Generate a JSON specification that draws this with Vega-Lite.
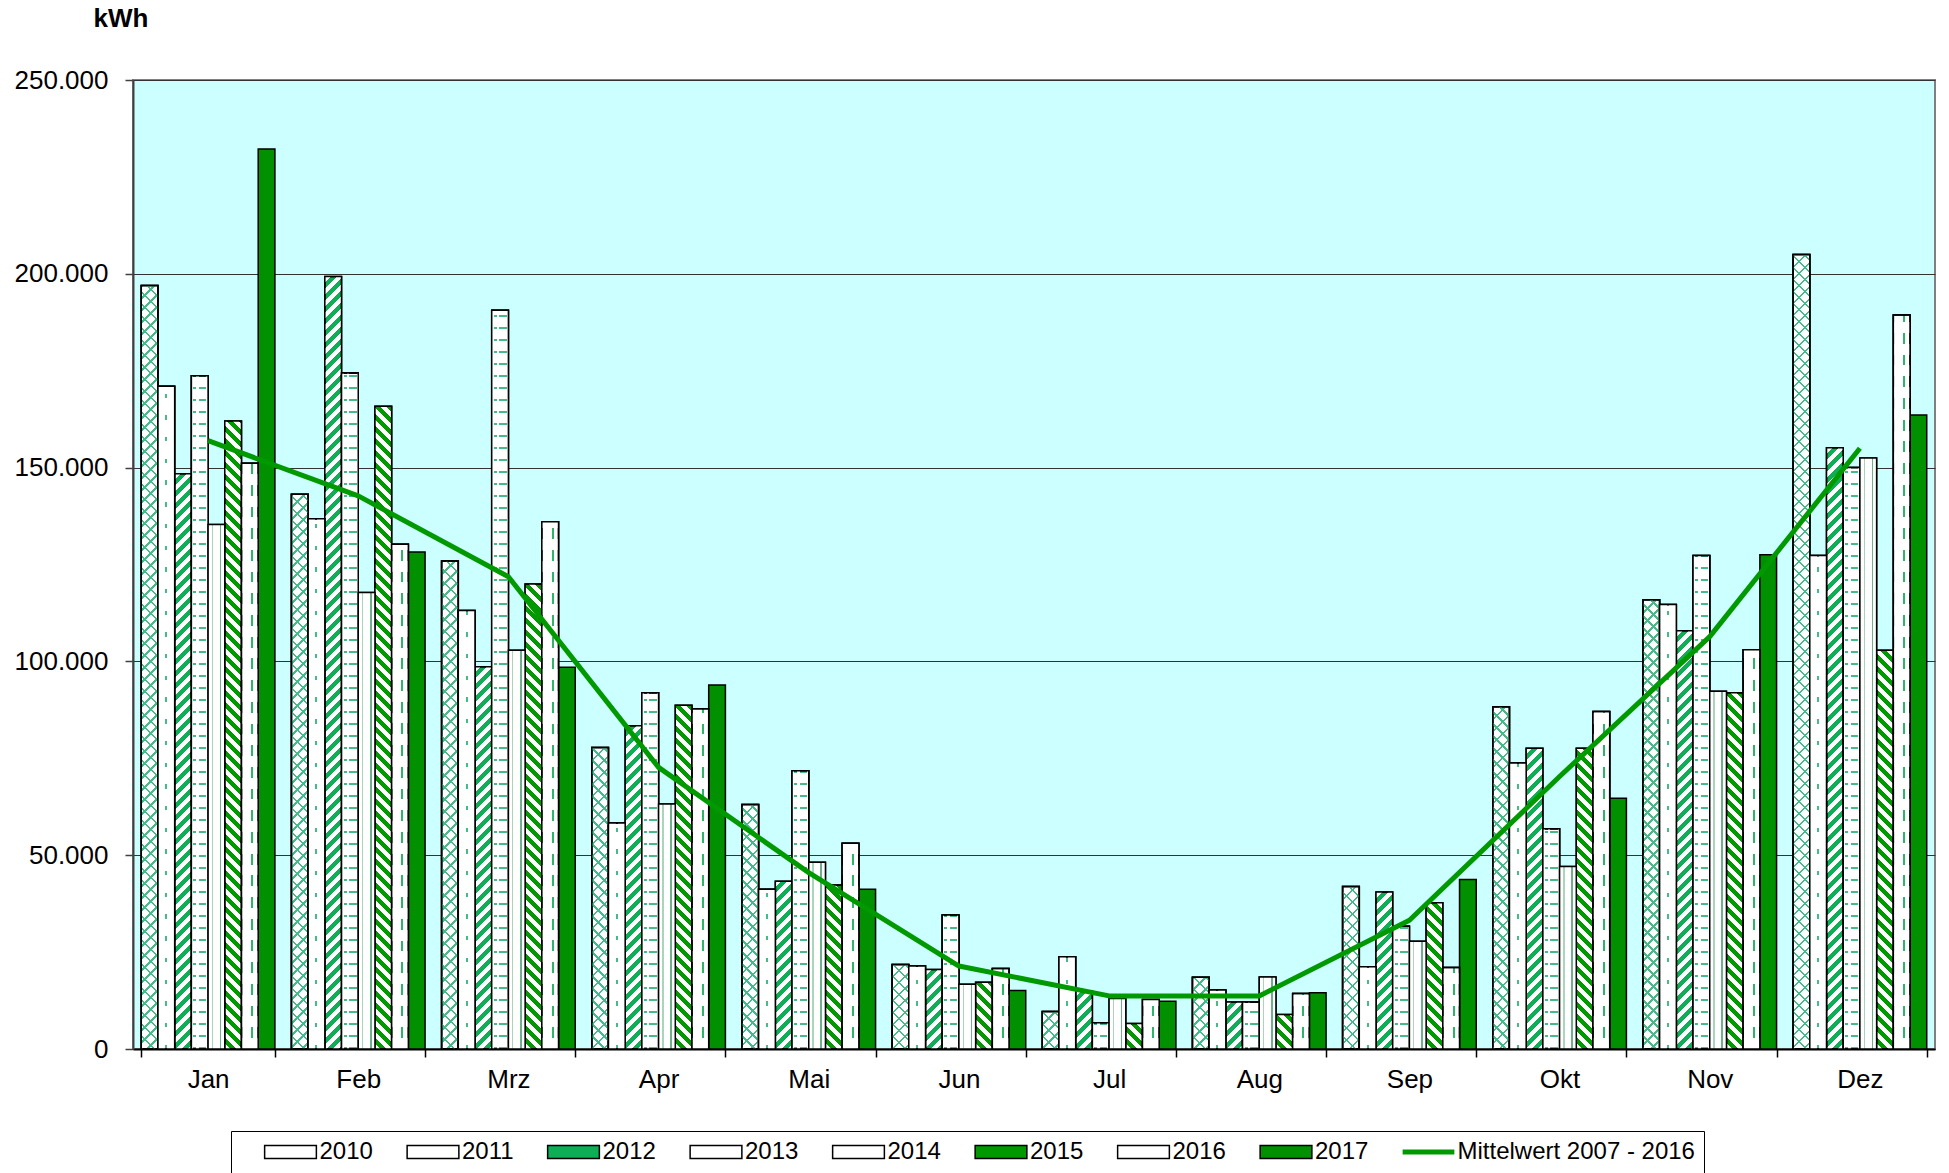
{
  "$schema": "https://vega.github.io/schema/vega-lite/v6.json",
  "autosize": {"type": "none"},
  "padding": {"left": 133, "top": 80, "right": 14, "bottom": 124},
  "width": 1802,
  "height": 969,
  "config": {
    "view": {"fill": "#CCFFFF", "stroke": "#808080", "strokeWidth": 2},
    "font": "Liberation Sans"
  },
  "params": [
    {"name": "W50", "value": [
      {"offset":0,"color":"#fff"},{"offset":0.005,"color":"#fff"},{"offset":0.005,"color":"#fff0"},{"offset":0.01,"color":"#fff0"},
      {"offset":0.01,"color":"#fff"},{"offset":0.015,"color":"#fff"},{"offset":0.015,"color":"#fff0"},{"offset":0.02,"color":"#fff0"},
      {"offset":0.02,"color":"#fff"},{"offset":0.025,"color":"#fff"},{"offset":0.025,"color":"#fff0"},{"offset":0.03,"color":"#fff0"},
      {"offset":0.03,"color":"#fff"},{"offset":0.035,"color":"#fff"},{"offset":0.035,"color":"#fff0"},{"offset":0.04,"color":"#fff0"},
      {"offset":0.04,"color":"#fff"},{"offset":0.045,"color":"#fff"},{"offset":0.045,"color":"#fff0"},{"offset":0.05,"color":"#fff0"},
      {"offset":0.05,"color":"#fff"},{"offset":0.055,"color":"#fff"},{"offset":0.055,"color":"#fff0"},{"offset":0.06,"color":"#fff0"},
      {"offset":0.06,"color":"#fff"},{"offset":0.065,"color":"#fff"},{"offset":0.065,"color":"#fff0"},{"offset":0.07,"color":"#fff0"},
      {"offset":0.07,"color":"#fff"},{"offset":0.075,"color":"#fff"},{"offset":0.075,"color":"#fff0"},{"offset":0.08,"color":"#fff0"},
      {"offset":0.08,"color":"#fff"},{"offset":0.085,"color":"#fff"},{"offset":0.085,"color":"#fff0"},{"offset":0.09,"color":"#fff0"},
      {"offset":0.09,"color":"#fff"},{"offset":0.095,"color":"#fff"},{"offset":0.095,"color":"#fff0"},{"offset":0.1,"color":"#fff0"},
      {"offset":0.1,"color":"#fff"},{"offset":0.105,"color":"#fff"},{"offset":0.105,"color":"#fff0"},{"offset":0.11,"color":"#fff0"},
      {"offset":0.11,"color":"#fff"},{"offset":0.115,"color":"#fff"},{"offset":0.115,"color":"#fff0"},{"offset":0.12,"color":"#fff0"},
      {"offset":0.12,"color":"#fff"},{"offset":0.125,"color":"#fff"},{"offset":0.125,"color":"#fff0"},{"offset":0.13,"color":"#fff0"},
      {"offset":0.13,"color":"#fff"},{"offset":0.135,"color":"#fff"},{"offset":0.135,"color":"#fff0"},{"offset":0.14,"color":"#fff0"},
      {"offset":0.14,"color":"#fff"},{"offset":0.145,"color":"#fff"},{"offset":0.145,"color":"#fff0"},{"offset":0.15,"color":"#fff0"},
      {"offset":0.15,"color":"#fff"},{"offset":0.155,"color":"#fff"},{"offset":0.155,"color":"#fff0"},{"offset":0.16,"color":"#fff0"},
      {"offset":0.16,"color":"#fff"},{"offset":0.165,"color":"#fff"},{"offset":0.165,"color":"#fff0"},{"offset":0.17,"color":"#fff0"},
      {"offset":0.17,"color":"#fff"},{"offset":0.175,"color":"#fff"},{"offset":0.175,"color":"#fff0"},{"offset":0.18,"color":"#fff0"},
      {"offset":0.18,"color":"#fff"},{"offset":0.185,"color":"#fff"},{"offset":0.185,"color":"#fff0"},{"offset":0.19,"color":"#fff0"},
      {"offset":0.19,"color":"#fff"},{"offset":0.195,"color":"#fff"},{"offset":0.195,"color":"#fff0"},{"offset":0.2,"color":"#fff0"},
      {"offset":0.2,"color":"#fff"},{"offset":0.205,"color":"#fff"},{"offset":0.205,"color":"#fff0"},{"offset":0.21,"color":"#fff0"},
      {"offset":0.21,"color":"#fff"},{"offset":0.215,"color":"#fff"},{"offset":0.215,"color":"#fff0"},{"offset":0.22,"color":"#fff0"},
      {"offset":0.22,"color":"#fff"},{"offset":0.225,"color":"#fff"},{"offset":0.225,"color":"#fff0"},{"offset":0.23,"color":"#fff0"},
      {"offset":0.23,"color":"#fff"},{"offset":0.235,"color":"#fff"},{"offset":0.235,"color":"#fff0"},{"offset":0.24,"color":"#fff0"},
      {"offset":0.24,"color":"#fff"},{"offset":0.245,"color":"#fff"},{"offset":0.245,"color":"#fff0"},{"offset":0.25,"color":"#fff0"},
      {"offset":0.25,"color":"#fff"},{"offset":0.255,"color":"#fff"},{"offset":0.255,"color":"#fff0"},{"offset":0.26,"color":"#fff0"},
      {"offset":0.26,"color":"#fff"},{"offset":0.265,"color":"#fff"},{"offset":0.265,"color":"#fff0"},{"offset":0.27,"color":"#fff0"},
      {"offset":0.27,"color":"#fff"},{"offset":0.275,"color":"#fff"},{"offset":0.275,"color":"#fff0"},{"offset":0.28,"color":"#fff0"},
      {"offset":0.28,"color":"#fff"},{"offset":0.285,"color":"#fff"},{"offset":0.285,"color":"#fff0"},{"offset":0.29,"color":"#fff0"},
      {"offset":0.29,"color":"#fff"},{"offset":0.295,"color":"#fff"},{"offset":0.295,"color":"#fff0"},{"offset":0.3,"color":"#fff0"},
      {"offset":0.3,"color":"#fff"},{"offset":0.305,"color":"#fff"},{"offset":0.305,"color":"#fff0"},{"offset":0.31,"color":"#fff0"},
      {"offset":0.31,"color":"#fff"},{"offset":0.315,"color":"#fff"},{"offset":0.315,"color":"#fff0"},{"offset":0.32,"color":"#fff0"},
      {"offset":0.32,"color":"#fff"},{"offset":0.325,"color":"#fff"},{"offset":0.325,"color":"#fff0"},{"offset":0.33,"color":"#fff0"},
      {"offset":0.33,"color":"#fff"},{"offset":0.335,"color":"#fff"},{"offset":0.335,"color":"#fff0"},{"offset":0.34,"color":"#fff0"},
      {"offset":0.34,"color":"#fff"},{"offset":0.345,"color":"#fff"},{"offset":0.345,"color":"#fff0"},{"offset":0.35,"color":"#fff0"},
      {"offset":0.35,"color":"#fff"},{"offset":0.355,"color":"#fff"},{"offset":0.355,"color":"#fff0"},{"offset":0.36,"color":"#fff0"},
      {"offset":0.36,"color":"#fff"},{"offset":0.365,"color":"#fff"},{"offset":0.365,"color":"#fff0"},{"offset":0.37,"color":"#fff0"},
      {"offset":0.37,"color":"#fff"},{"offset":0.375,"color":"#fff"},{"offset":0.375,"color":"#fff0"},{"offset":0.38,"color":"#fff0"},
      {"offset":0.38,"color":"#fff"},{"offset":0.385,"color":"#fff"},{"offset":0.385,"color":"#fff0"},{"offset":0.39,"color":"#fff0"},
      {"offset":0.39,"color":"#fff"},{"offset":0.395,"color":"#fff"},{"offset":0.395,"color":"#fff0"},{"offset":0.4,"color":"#fff0"},
      {"offset":0.4,"color":"#fff"},{"offset":0.405,"color":"#fff"},{"offset":0.405,"color":"#fff0"},{"offset":0.41,"color":"#fff0"},
      {"offset":0.41,"color":"#fff"},{"offset":0.415,"color":"#fff"},{"offset":0.415,"color":"#fff0"},{"offset":0.42,"color":"#fff0"},
      {"offset":0.42,"color":"#fff"},{"offset":0.425,"color":"#fff"},{"offset":0.425,"color":"#fff0"},{"offset":0.43,"color":"#fff0"},
      {"offset":0.43,"color":"#fff"},{"offset":0.435,"color":"#fff"},{"offset":0.435,"color":"#fff0"},{"offset":0.44,"color":"#fff0"},
      {"offset":0.44,"color":"#fff"},{"offset":0.445,"color":"#fff"},{"offset":0.445,"color":"#fff0"},{"offset":0.45,"color":"#fff0"},
      {"offset":0.45,"color":"#fff"},{"offset":0.455,"color":"#fff"},{"offset":0.455,"color":"#fff0"},{"offset":0.46,"color":"#fff0"},
      {"offset":0.46,"color":"#fff"},{"offset":0.465,"color":"#fff"},{"offset":0.465,"color":"#fff0"},{"offset":0.47,"color":"#fff0"},
      {"offset":0.47,"color":"#fff"},{"offset":0.475,"color":"#fff"},{"offset":0.475,"color":"#fff0"},{"offset":0.48,"color":"#fff0"},
      {"offset":0.48,"color":"#fff"},{"offset":0.485,"color":"#fff"},{"offset":0.485,"color":"#fff0"},{"offset":0.49,"color":"#fff0"},
      {"offset":0.49,"color":"#fff"},{"offset":0.495,"color":"#fff"},{"offset":0.495,"color":"#fff0"},{"offset":0.5,"color":"#fff0"},
      {"offset":0.5,"color":"#fff"},{"offset":0.505,"color":"#fff"},{"offset":0.505,"color":"#fff0"},{"offset":0.51,"color":"#fff0"},
      {"offset":0.51,"color":"#fff"},{"offset":0.515,"color":"#fff"},{"offset":0.515,"color":"#fff0"},{"offset":0.52,"color":"#fff0"},
      {"offset":0.52,"color":"#fff"},{"offset":0.525,"color":"#fff"},{"offset":0.525,"color":"#fff0"},{"offset":0.53,"color":"#fff0"},
      {"offset":0.53,"color":"#fff"},{"offset":0.535,"color":"#fff"},{"offset":0.535,"color":"#fff0"},{"offset":0.54,"color":"#fff0"},
      {"offset":0.54,"color":"#fff"},{"offset":0.545,"color":"#fff"},{"offset":0.545,"color":"#fff0"},{"offset":0.55,"color":"#fff0"},
      {"offset":0.55,"color":"#fff"},{"offset":0.555,"color":"#fff"},{"offset":0.555,"color":"#fff0"},{"offset":0.56,"color":"#fff0"},
      {"offset":0.56,"color":"#fff"},{"offset":0.565,"color":"#fff"},{"offset":0.565,"color":"#fff0"},{"offset":0.57,"color":"#fff0"},
      {"offset":0.57,"color":"#fff"},{"offset":0.575,"color":"#fff"},{"offset":0.575,"color":"#fff0"},{"offset":0.58,"color":"#fff0"},
      {"offset":0.58,"color":"#fff"},{"offset":0.585,"color":"#fff"},{"offset":0.585,"color":"#fff0"},{"offset":0.59,"color":"#fff0"},
      {"offset":0.59,"color":"#fff"},{"offset":0.595,"color":"#fff"},{"offset":0.595,"color":"#fff0"},{"offset":0.6,"color":"#fff0"},
      {"offset":0.6,"color":"#fff"},{"offset":0.605,"color":"#fff"},{"offset":0.605,"color":"#fff0"},{"offset":0.61,"color":"#fff0"},
      {"offset":0.61,"color":"#fff"},{"offset":0.615,"color":"#fff"},{"offset":0.615,"color":"#fff0"},{"offset":0.62,"color":"#fff0"},
      {"offset":0.62,"color":"#fff"},{"offset":0.625,"color":"#fff"},{"offset":0.625,"color":"#fff0"},{"offset":0.63,"color":"#fff0"},
      {"offset":0.63,"color":"#fff"},{"offset":0.635,"color":"#fff"},{"offset":0.635,"color":"#fff0"},{"offset":0.64,"color":"#fff0"},
      {"offset":0.64,"color":"#fff"},{"offset":0.645,"color":"#fff"},{"offset":0.645,"color":"#fff0"},{"offset":0.65,"color":"#fff0"},
      {"offset":0.65,"color":"#fff"},{"offset":0.655,"color":"#fff"},{"offset":0.655,"color":"#fff0"},{"offset":0.66,"color":"#fff0"}
    ]},
    {"name": "G20", "value": [
      {"offset":0,"color":"#4b8"},{"offset":0.002,"color":"#4b8"},{"offset":0.002,"color":"#fff0"},{"offset":0.01,"color":"#fff0"},
      {"offset":0.01,"color":"#4b8"},{"offset":0.012,"color":"#4b8"},{"offset":0.012,"color":"#fff0"},{"offset":0.02,"color":"#fff0"},
      {"offset":0.02,"color":"#4b8"},{"offset":0.022,"color":"#4b8"},{"offset":0.022,"color":"#fff0"},{"offset":0.03,"color":"#fff0"},
      {"offset":0.03,"color":"#4b8"},{"offset":0.032,"color":"#4b8"},{"offset":0.032,"color":"#fff0"},{"offset":0.04,"color":"#fff0"},
      {"offset":0.04,"color":"#4b8"},{"offset":0.042,"color":"#4b8"},{"offset":0.042,"color":"#fff0"},{"offset":0.05,"color":"#fff0"},
      {"offset":0.05,"color":"#4b8"},{"offset":0.052,"color":"#4b8"},{"offset":0.052,"color":"#fff0"},{"offset":0.06,"color":"#fff0"},
      {"offset":0.06,"color":"#4b8"},{"offset":0.062,"color":"#4b8"},{"offset":0.062,"color":"#fff0"},{"offset":0.07,"color":"#fff0"},
      {"offset":0.07,"color":"#4b8"},{"offset":0.072,"color":"#4b8"},{"offset":0.072,"color":"#fff0"},{"offset":0.08,"color":"#fff0"},
      {"offset":0.08,"color":"#4b8"},{"offset":0.082,"color":"#4b8"},{"offset":0.082,"color":"#fff0"},{"offset":0.09,"color":"#fff0"},
      {"offset":0.09,"color":"#4b8"},{"offset":0.092,"color":"#4b8"},{"offset":0.092,"color":"#fff0"},{"offset":0.1,"color":"#fff0"},
      {"offset":0.1,"color":"#4b8"},{"offset":0.102,"color":"#4b8"},{"offset":0.102,"color":"#fff0"},{"offset":0.11,"color":"#fff0"},
      {"offset":0.11,"color":"#4b8"},{"offset":0.112,"color":"#4b8"},{"offset":0.112,"color":"#fff0"},{"offset":0.12,"color":"#fff0"},
      {"offset":0.12,"color":"#4b8"},{"offset":0.122,"color":"#4b8"},{"offset":0.122,"color":"#fff0"},{"offset":0.13,"color":"#fff0"},
      {"offset":0.13,"color":"#4b8"},{"offset":0.132,"color":"#4b8"},{"offset":0.132,"color":"#fff0"},{"offset":0.14,"color":"#fff0"},
      {"offset":0.14,"color":"#4b8"},{"offset":0.142,"color":"#4b8"},{"offset":0.142,"color":"#fff0"},{"offset":0.15,"color":"#fff0"},
      {"offset":0.15,"color":"#4b8"},{"offset":0.152,"color":"#4b8"},{"offset":0.152,"color":"#fff0"},{"offset":0.16,"color":"#fff0"},
      {"offset":0.16,"color":"#4b8"},{"offset":0.162,"color":"#4b8"},{"offset":0.162,"color":"#fff0"},{"offset":0.17,"color":"#fff0"},
      {"offset":0.17,"color":"#4b8"},{"offset":0.172,"color":"#4b8"},{"offset":0.172,"color":"#fff0"},{"offset":0.18,"color":"#fff0"},
      {"offset":0.18,"color":"#4b8"},{"offset":0.182,"color":"#4b8"},{"offset":0.182,"color":"#fff0"},{"offset":0.19,"color":"#fff0"},
      {"offset":0.19,"color":"#4b8"},{"offset":0.192,"color":"#4b8"},{"offset":0.192,"color":"#fff0"},{"offset":0.2,"color":"#fff0"},
      {"offset":0.2,"color":"#4b8"},{"offset":0.202,"color":"#4b8"},{"offset":0.202,"color":"#fff0"},{"offset":0.21,"color":"#fff0"},
      {"offset":0.21,"color":"#4b8"},{"offset":0.212,"color":"#4b8"},{"offset":0.212,"color":"#fff0"},{"offset":0.22,"color":"#fff0"},
      {"offset":0.22,"color":"#4b8"},{"offset":0.222,"color":"#4b8"},{"offset":0.222,"color":"#fff0"},{"offset":0.23,"color":"#fff0"},
      {"offset":0.23,"color":"#4b8"},{"offset":0.232,"color":"#4b8"},{"offset":0.232,"color":"#fff0"},{"offset":0.24,"color":"#fff0"},
      {"offset":0.24,"color":"#4b8"},{"offset":0.242,"color":"#4b8"},{"offset":0.242,"color":"#fff0"},{"offset":0.25,"color":"#fff0"},
      {"offset":0.25,"color":"#4b8"},{"offset":0.252,"color":"#4b8"},{"offset":0.252,"color":"#fff0"},{"offset":0.26,"color":"#fff0"},
      {"offset":0.26,"color":"#4b8"},{"offset":0.262,"color":"#4b8"},{"offset":0.262,"color":"#fff0"},{"offset":0.27,"color":"#fff0"},
      {"offset":0.27,"color":"#4b8"},{"offset":0.272,"color":"#4b8"},{"offset":0.272,"color":"#fff0"},{"offset":0.28,"color":"#fff0"},
      {"offset":0.28,"color":"#4b8"},{"offset":0.282,"color":"#4b8"},{"offset":0.282,"color":"#fff0"},{"offset":0.29,"color":"#fff0"},
      {"offset":0.29,"color":"#4b8"},{"offset":0.292,"color":"#4b8"},{"offset":0.292,"color":"#fff0"},{"offset":0.3,"color":"#fff0"},
      {"offset":0.3,"color":"#4b8"},{"offset":0.302,"color":"#4b8"},{"offset":0.302,"color":"#fff0"},{"offset":0.31,"color":"#fff0"},
      {"offset":0.31,"color":"#4b8"},{"offset":0.312,"color":"#4b8"},{"offset":0.312,"color":"#fff0"},{"offset":0.32,"color":"#fff0"},
      {"offset":0.32,"color":"#4b8"},{"offset":0.322,"color":"#4b8"},{"offset":0.322,"color":"#fff0"},{"offset":0.33,"color":"#fff0"},
      {"offset":0.33,"color":"#4b8"},{"offset":0.332,"color":"#4b8"},{"offset":0.332,"color":"#fff0"},{"offset":0.34,"color":"#fff0"},
      {"offset":0.34,"color":"#4b8"},{"offset":0.342,"color":"#4b8"},{"offset":0.342,"color":"#fff0"},{"offset":0.35,"color":"#fff0"},
      {"offset":0.35,"color":"#4b8"},{"offset":0.352,"color":"#4b8"},{"offset":0.352,"color":"#fff0"},{"offset":0.36,"color":"#fff0"},
      {"offset":0.36,"color":"#4b8"},{"offset":0.362,"color":"#4b8"},{"offset":0.362,"color":"#fff0"},{"offset":0.37,"color":"#fff0"},
      {"offset":0.37,"color":"#4b8"},{"offset":0.372,"color":"#4b8"},{"offset":0.372,"color":"#fff0"},{"offset":0.38,"color":"#fff0"},
      {"offset":0.38,"color":"#4b8"},{"offset":0.382,"color":"#4b8"},{"offset":0.382,"color":"#fff0"},{"offset":0.39,"color":"#fff0"},
      {"offset":0.39,"color":"#4b8"},{"offset":0.392,"color":"#4b8"},{"offset":0.392,"color":"#fff0"},{"offset":0.4,"color":"#fff0"},
      {"offset":0.4,"color":"#4b8"},{"offset":0.402,"color":"#4b8"},{"offset":0.402,"color":"#fff0"},{"offset":0.41,"color":"#fff0"},
      {"offset":0.41,"color":"#4b8"},{"offset":0.412,"color":"#4b8"},{"offset":0.412,"color":"#fff0"},{"offset":0.42,"color":"#fff0"},
      {"offset":0.42,"color":"#4b8"},{"offset":0.422,"color":"#4b8"},{"offset":0.422,"color":"#fff0"},{"offset":0.43,"color":"#fff0"},
      {"offset":0.43,"color":"#4b8"},{"offset":0.432,"color":"#4b8"},{"offset":0.432,"color":"#fff0"},{"offset":0.44,"color":"#fff0"},
      {"offset":0.44,"color":"#4b8"},{"offset":0.442,"color":"#4b8"},{"offset":0.442,"color":"#fff0"},{"offset":0.45,"color":"#fff0"},
      {"offset":0.45,"color":"#4b8"},{"offset":0.452,"color":"#4b8"},{"offset":0.452,"color":"#fff0"},{"offset":0.46,"color":"#fff0"},
      {"offset":0.46,"color":"#4b8"},{"offset":0.462,"color":"#4b8"},{"offset":0.462,"color":"#fff0"},{"offset":0.47,"color":"#fff0"},
      {"offset":0.47,"color":"#4b8"},{"offset":0.472,"color":"#4b8"},{"offset":0.472,"color":"#fff0"},{"offset":0.48,"color":"#fff0"},
      {"offset":0.48,"color":"#4b8"},{"offset":0.482,"color":"#4b8"},{"offset":0.482,"color":"#fff0"},{"offset":0.49,"color":"#fff0"},
      {"offset":0.49,"color":"#4b8"},{"offset":0.492,"color":"#4b8"},{"offset":0.492,"color":"#fff0"},{"offset":0.5,"color":"#fff0"},
      {"offset":0.5,"color":"#4b8"},{"offset":0.502,"color":"#4b8"},{"offset":0.502,"color":"#fff0"},{"offset":0.51,"color":"#fff0"},
      {"offset":0.51,"color":"#4b8"},{"offset":0.512,"color":"#4b8"},{"offset":0.512,"color":"#fff0"},{"offset":0.52,"color":"#fff0"},
      {"offset":0.52,"color":"#4b8"},{"offset":0.522,"color":"#4b8"},{"offset":0.522,"color":"#fff0"},{"offset":0.53,"color":"#fff0"},
      {"offset":0.53,"color":"#4b8"},{"offset":0.532,"color":"#4b8"},{"offset":0.532,"color":"#fff0"},{"offset":0.54,"color":"#fff0"},
      {"offset":0.54,"color":"#4b8"},{"offset":0.542,"color":"#4b8"},{"offset":0.542,"color":"#fff0"},{"offset":0.55,"color":"#fff0"},
      {"offset":0.55,"color":"#4b8"},{"offset":0.552,"color":"#4b8"},{"offset":0.552,"color":"#fff0"},{"offset":0.56,"color":"#fff0"},
      {"offset":0.56,"color":"#4b8"},{"offset":0.562,"color":"#4b8"},{"offset":0.562,"color":"#fff0"},{"offset":0.57,"color":"#fff0"},
      {"offset":0.57,"color":"#4b8"},{"offset":0.572,"color":"#4b8"},{"offset":0.572,"color":"#fff0"},{"offset":0.58,"color":"#fff0"},
      {"offset":0.58,"color":"#4b8"},{"offset":0.582,"color":"#4b8"},{"offset":0.582,"color":"#fff0"},{"offset":0.59,"color":"#fff0"},
      {"offset":0.59,"color":"#4b8"},{"offset":0.592,"color":"#4b8"},{"offset":0.592,"color":"#fff0"},{"offset":0.6,"color":"#fff0"},
      {"offset":0.6,"color":"#4b8"},{"offset":0.602,"color":"#4b8"},{"offset":0.602,"color":"#fff0"},{"offset":0.61,"color":"#fff0"},
      {"offset":0.61,"color":"#4b8"},{"offset":0.612,"color":"#4b8"},{"offset":0.612,"color":"#fff0"},{"offset":0.62,"color":"#fff0"},
      {"offset":0.62,"color":"#4b8"},{"offset":0.622,"color":"#4b8"},{"offset":0.622,"color":"#fff0"},{"offset":0.63,"color":"#fff0"},
      {"offset":0.63,"color":"#4b8"},{"offset":0.632,"color":"#4b8"},{"offset":0.632,"color":"#fff0"},{"offset":0.64,"color":"#fff0"},
      {"offset":0.64,"color":"#4b8"},{"offset":0.642,"color":"#4b8"},{"offset":0.642,"color":"#fff0"},{"offset":0.65,"color":"#fff0"},
      {"offset":0.65,"color":"#4b8"},{"offset":0.652,"color":"#4b8"},{"offset":0.652,"color":"#fff0"},{"offset":0.66,"color":"#fff0"},
      {"offset":0.66,"color":"#4b8"},{"offset":0.662,"color":"#4b8"},{"offset":0.662,"color":"#fff0"},{"offset":0.67,"color":"#fff0"},
      {"offset":0.67,"color":"#4b8"},{"offset":0.672,"color":"#4b8"},{"offset":0.672,"color":"#fff0"},{"offset":0.68,"color":"#fff0"}
    ]}
  ],
  "data": {
    "values": [
      {"month": "Jan", "series": "2010", "kwh": 197000},
      {"month": "Jan", "series": "2011", "kwh": 171000},
      {"month": "Jan", "series": "2012", "kwh": 148400},
      {"month": "Jan", "series": "2013", "kwh": 173700},
      {"month": "Jan", "series": "2014", "kwh": 135300},
      {"month": "Jan", "series": "2015", "kwh": 162000},
      {"month": "Jan", "series": "2016", "kwh": 151100},
      {"month": "Jan", "series": "2017", "kwh": 232200},
      {"month": "Feb", "series": "2010", "kwh": 143100},
      {"month": "Feb", "series": "2011", "kwh": 136800},
      {"month": "Feb", "series": "2012", "kwh": 199300},
      {"month": "Feb", "series": "2013", "kwh": 174400},
      {"month": "Feb", "series": "2014", "kwh": 117800},
      {"month": "Feb", "series": "2015", "kwh": 165800},
      {"month": "Feb", "series": "2016", "kwh": 130200},
      {"month": "Feb", "series": "2017", "kwh": 128200},
      {"month": "Mrz", "series": "2010", "kwh": 125900},
      {"month": "Mrz", "series": "2011", "kwh": 113100},
      {"month": "Mrz", "series": "2012", "kwh": 98600},
      {"month": "Mrz", "series": "2013", "kwh": 190600},
      {"month": "Mrz", "series": "2014", "kwh": 102900},
      {"month": "Mrz", "series": "2015", "kwh": 120000},
      {"month": "Mrz", "series": "2016", "kwh": 136000},
      {"month": "Mrz", "series": "2017", "kwh": 98500},
      {"month": "Apr", "series": "2010", "kwh": 77800},
      {"month": "Apr", "series": "2011", "kwh": 58300},
      {"month": "Apr", "series": "2012", "kwh": 83400},
      {"month": "Apr", "series": "2013", "kwh": 91900},
      {"month": "Apr", "series": "2014", "kwh": 63200},
      {"month": "Apr", "series": "2015", "kwh": 88700},
      {"month": "Apr", "series": "2016", "kwh": 87800},
      {"month": "Apr", "series": "2017", "kwh": 93900},
      {"month": "Mai", "series": "2010", "kwh": 63100},
      {"month": "Mai", "series": "2011", "kwh": 41200},
      {"month": "Mai", "series": "2012", "kwh": 43300},
      {"month": "Mai", "series": "2013", "kwh": 71800},
      {"month": "Mai", "series": "2014", "kwh": 48200},
      {"month": "Mai", "series": "2015", "kwh": 42300},
      {"month": "Mai", "series": "2016", "kwh": 53100},
      {"month": "Mai", "series": "2017", "kwh": 41200},
      {"month": "Jun", "series": "2010", "kwh": 21800},
      {"month": "Jun", "series": "2011", "kwh": 21400},
      {"month": "Jun", "series": "2012", "kwh": 20500},
      {"month": "Jun", "series": "2013", "kwh": 34600},
      {"month": "Jun", "series": "2014", "kwh": 16700},
      {"month": "Jun", "series": "2015", "kwh": 17200},
      {"month": "Jun", "series": "2016", "kwh": 20800},
      {"month": "Jun", "series": "2017", "kwh": 15100},
      {"month": "Jul", "series": "2010", "kwh": 9700},
      {"month": "Jul", "series": "2011", "kwh": 23800},
      {"month": "Jul", "series": "2012", "kwh": 15000},
      {"month": "Jul", "series": "2013", "kwh": 6800},
      {"month": "Jul", "series": "2014", "kwh": 13000},
      {"month": "Jul", "series": "2015", "kwh": 6600},
      {"month": "Jul", "series": "2016", "kwh": 12800},
      {"month": "Jul", "series": "2017", "kwh": 12300},
      {"month": "Aug", "series": "2010", "kwh": 18500},
      {"month": "Aug", "series": "2011", "kwh": 15200},
      {"month": "Aug", "series": "2012", "kwh": 12100},
      {"month": "Aug", "series": "2013", "kwh": 12100},
      {"month": "Aug", "series": "2014", "kwh": 18600},
      {"month": "Aug", "series": "2015", "kwh": 8900},
      {"month": "Aug", "series": "2016", "kwh": 14300},
      {"month": "Aug", "series": "2017", "kwh": 14500},
      {"month": "Sep", "series": "2010", "kwh": 41900},
      {"month": "Sep", "series": "2011", "kwh": 21200},
      {"month": "Sep", "series": "2012", "kwh": 40500},
      {"month": "Sep", "series": "2013", "kwh": 31700},
      {"month": "Sep", "series": "2014", "kwh": 27800},
      {"month": "Sep", "series": "2015", "kwh": 37700},
      {"month": "Sep", "series": "2016", "kwh": 21000},
      {"month": "Sep", "series": "2017", "kwh": 43700},
      {"month": "Okt", "series": "2010", "kwh": 88300},
      {"month": "Okt", "series": "2011", "kwh": 73800},
      {"month": "Okt", "series": "2012", "kwh": 77600},
      {"month": "Okt", "series": "2013", "kwh": 56800},
      {"month": "Okt", "series": "2014", "kwh": 47100},
      {"month": "Okt", "series": "2015", "kwh": 77600},
      {"month": "Okt", "series": "2016", "kwh": 87100},
      {"month": "Okt", "series": "2017", "kwh": 64700},
      {"month": "Nov", "series": "2010", "kwh": 115900},
      {"month": "Nov", "series": "2011", "kwh": 114700},
      {"month": "Nov", "series": "2012", "kwh": 107900},
      {"month": "Nov", "series": "2013", "kwh": 127300},
      {"month": "Nov", "series": "2014", "kwh": 92300},
      {"month": "Nov", "series": "2015", "kwh": 91900},
      {"month": "Nov", "series": "2016", "kwh": 103000},
      {"month": "Nov", "series": "2017", "kwh": 127500},
      {"month": "Dez", "series": "2010", "kwh": 205000},
      {"month": "Dez", "series": "2011", "kwh": 127300},
      {"month": "Dez", "series": "2012", "kwh": 155100},
      {"month": "Dez", "series": "2013", "kwh": 150000},
      {"month": "Dez", "series": "2014", "kwh": 152500},
      {"month": "Dez", "series": "2015", "kwh": 102900},
      {"month": "Dez", "series": "2016", "kwh": 189400},
      {"month": "Dez", "series": "2017", "kwh": 163600},
      {"month": "Jan", "series": "Mittelwert 2007 - 2016", "kwh": 156950},
      {"month": "Feb", "series": "Mittelwert 2007 - 2016", "kwh": 142700},
      {"month": "Mrz", "series": "Mittelwert 2007 - 2016", "kwh": 121850},
      {"month": "Apr", "series": "Mittelwert 2007 - 2016", "kwh": 72650},
      {"month": "Mai", "series": "Mittelwert 2007 - 2016", "kwh": 45500},
      {"month": "Jun", "series": "Mittelwert 2007 - 2016", "kwh": 21400},
      {"month": "Jul", "series": "Mittelwert 2007 - 2016", "kwh": 13700},
      {"month": "Aug", "series": "Mittelwert 2007 - 2016", "kwh": 13700},
      {"month": "Sep", "series": "Mittelwert 2007 - 2016", "kwh": 33200},
      {"month": "Okt", "series": "Mittelwert 2007 - 2016", "kwh": 70300},
      {"month": "Nov", "series": "Mittelwert 2007 - 2016", "kwh": 106400},
      {"month": "Dez", "series": "Mittelwert 2007 - 2016", "kwh": 155000}
    ]
  },
  "encoding": {
    "x": {
      "field": "month",
      "type": "nominal",
      "sort": ["Jan", "Feb", "Mrz", "Apr", "Mai", "Jun", "Jul", "Aug", "Sep", "Okt", "Nov", "Dez"],
      "scale": {"paddingInner": 0.11, "paddingOuter": 0.055},
      "axis": {
        "title": null,
        "labelAngle": 0,
        "labelFont": "Liberation Sans",
        "labelFontSize": 26,
        "labelColor": "black",
        "labelPadding": 9.5,
        "tickSize": 8,
        "tickBand": "extent",
        "tickColor": "black",
        "tickWidth": 1.5,
        "domainColor": "black",
        "domainWidth": 2,
        "grid": false
      }
    },
    "y": {
      "field": "kwh",
      "type": "quantitative",
      "scale": {"domain": [0, 250000], "nice": false, "zero": true},
      "axis": {
        "title": "kWh",
        "titleAngle": 0,
        "titleAlign": "left",
        "titleBaseline": "alphabetic",
        "titleX": -40,
        "titleY": -54,
        "titleFont": "Liberation Sans",
        "titleFontSize": 26,
        "titleFontWeight": "bold",
        "titleColor": "black",
        "values": [0, 50000, 100000, 150000, 200000, 250000],
        "labelExpr": "replace(format(datum.value, ','), ',', '.')",
        "labelFont": "Liberation Sans",
        "labelFontSize": 26,
        "labelColor": "black",
        "labelPadding": 17,
        "tickSize": 8,
        "tickColor": "#404040",
        "tickWidth": 1.5,
        "domainColor": "#404040",
        "domainWidth": 2,
        "grid": true,
        "gridColor": "#333333",
        "gridWidth": 1
      }
    }
  },
  "layer": [
    {
      "transform": [{"filter": "datum.series != 'Mittelwert 2007 - 2016'"}],
      "mark": {"type": "bar", "stroke": "black", "strokeWidth": 1.5, "opacity": 1},
      "encoding": {
        "xOffset": {
          "field": "series",
          "type": "nominal",
          "scale": {"domain": ["2010", "2011", "2012", "2013", "2014", "2015", "2016", "2017"], "paddingInner": 0, "paddingOuter": 0}
        },
        "color": {
          "field": "series",
          "type": "nominal",
          "scale": {
            "domain": ["2010", "2011", "2012", "2013", "2014", "2015", "2016", "2017", "Mittelwert 2007 - 2016"],
            "range": ["#FFFFFF", "#FFFFFF", "#0DAE55", "#FFFFFF", "#FFFFFF", "#009A00", "#FFFFFF", "#009000", "#009900"]
          },
          "legend": {
            "orient": "none",
            "legendX": 98,
            "legendY": 1051,
            "direction": "horizontal",
            "columns": 9,
            "columnPadding": 30.5,
            "title": " ",
            "titleOrient": "left",
            "titlePadding": 38.5,
            "titleFontSize": 24,
            "labelFont": "Liberation Sans",
            "labelFontSize": 24,
            "labelColor": "black",
            "labelOffset": 17,
            "labelLimit": 0,
            "symbolSize": 169,
            "symbolType": "M-3.98,-1H3.98V1H-3.98Z",
            "symbolStrokeColor": "black",
            "symbolStrokeWidth": 1.5,
            "symbolOpacity": 1,
            "strokeColor": "black",
            "fillColor": "white",
            "padding": 9,
            "encode": {
              "symbols": {
                "update": {
                  "shape": {"signal": "datum.value == 'Mittelwert 2007 - 2016' ? 'M-3.98,-0.4H3.98V0.4H-3.98Z' : 'M-3.98,-1H3.98V1H-3.98Z'"},
                  "stroke": {"signal": "datum.value == 'Mittelwert 2007 - 2016' ? 'transparent' : 'black'"},
                  "strokeWidth": {"value": 1.5},
                  "opacity": {"value": 1}
                }
              }
            }
          }
        }
      }
    },
    {
      "transform": [{"filter": "datum.series == '2010'"}],
      "mark": {"type": "bar", "stroke": "black", "strokeWidth": 1.5,
        "fill": {"expr": "{gradient: 'linear', x1: 0, y1: 0, x2: 1200*16.7/(pow(scale('y',0)-scale('y',datum.kwh),2)+279), y2: 1200*(scale('y',0)-scale('y',datum.kwh))/(pow(scale('y',0)-scale('y',datum.kwh),2)+279), stops: G20}"}},
      "encoding": {"xOffset": {"field": "series", "type": "nominal"}}
    },
    {
      "transform": [{"filter": "datum.series == '2010'"}],
      "mark": {"type": "bar", "stroke": "black", "strokeWidth": 1.5,
        "fill": {"expr": "{gradient: 'linear', x1: 0, y1: 1, x2: 1200*16.7/(pow(scale('y',0)-scale('y',datum.kwh),2)+279), y2: 1-1200*(scale('y',0)-scale('y',datum.kwh))/(pow(scale('y',0)-scale('y',datum.kwh),2)+279), stops: G20}"}},
      "encoding": {"xOffset": {"field": "series", "type": "nominal"}}
    },
    {
      "transform": [{"filter": "datum.series == '2012'"}],
      "mark": {"type": "bar", "stroke": "black", "strokeWidth": 1.5,
        "fill": {"expr": "{gradient: 'linear', x1: 0, y1: 0, x2: 1200*16.7/(pow(scale('y',0)-scale('y',datum.kwh),2)+279), y2: 1200*(scale('y',0)-scale('y',datum.kwh))/(pow(scale('y',0)-scale('y',datum.kwh),2)+279), stops: W50}"}},
      "encoding": {"xOffset": {"field": "series", "type": "nominal"}}
    },
    {
      "transform": [{"filter": "datum.series == '2015'"}],
      "mark": {"type": "bar", "stroke": "black", "strokeWidth": 1.5,
        "fill": {"expr": "{gradient: 'linear', x1: 0, y1: 1, x2: 1200*16.7/(pow(scale('y',0)-scale('y',datum.kwh),2)+279), y2: 1-1200*(scale('y',0)-scale('y',datum.kwh))/(pow(scale('y',0)-scale('y',datum.kwh),2)+279), stops: W50}"}},
      "encoding": {"xOffset": {"field": "series", "type": "nominal"}}
    },
    {
      "transform": [{"filter": "datum.series == '2011'"}],
      "mark": {"type": "bar", "stroke": "black", "strokeWidth": 1.5,
        "fill": {"expr": "{gradient: 'linear', x1: 0, y1: 1, x2: 0, y2: 1-2170/(scale('y',0)-scale('y',datum.kwh)), stops: G20}"}},
      "encoding": {"xOffset": {"field": "series", "type": "nominal"}}
    },
    {
      "transform": [{"filter": "datum.series == '2011'"}],
      "mark": {
        "type": "bar", "stroke": "black", "strokeWidth": 1.5,
        "fill": {"gradient": "linear", "x1": 0, "y1": 0, "x2": 1, "y2": 0, "stops": [
          {"offset": 0, "color": "#fff"}, {"offset": 0.44, "color": "#fff"},
          {"offset": 0.44, "color": "#fff0"}, {"offset": 0.56, "color": "#fff0"},
          {"offset": 0.56, "color": "#fff"}, {"offset": 1, "color": "#fff"}
        ]}
      },
      "encoding": {"xOffset": {"field": "series", "type": "nominal"}}
    },
    {
      "transform": [{"filter": "datum.series == '2013'"}],
      "mark": {"type": "bar", "stroke": "black", "strokeWidth": 1.5,
        "fill": {"expr": "{gradient: 'linear', x1: 0, y1: 1, x2: 0, y2: 1-1200/(scale('y',0)-scale('y',datum.kwh)), stops: G20}"}},
      "encoding": {"xOffset": {"field": "series", "type": "nominal"}}
    },
    {
      "transform": [{"filter": "datum.series == '2013'"}],
      "mark": {
        "type": "bar", "stroke": "black", "strokeWidth": 1.5,
        "fill": {"gradient": "linear", "x1": 0, "y1": 0, "x2": 1, "y2": 0, "stops": [
          {"offset": 0, "color": "#fff"}, {"offset": 0.12, "color": "#fff"},
          {"offset": 0.12, "color": "#fff0"}, {"offset": 0.3, "color": "#fff0"},
          {"offset": 0.3, "color": "#fff"}, {"offset": 0.45, "color": "#fff"},
          {"offset": 0.45, "color": "#fff0"}, {"offset": 0.9, "color": "#fff0"},
          {"offset": 0.9, "color": "#fff"}, {"offset": 1, "color": "#fff"}
        ]}
      },
      "encoding": {"xOffset": {"field": "series", "type": "nominal"}}
    },
    {
      "transform": [{"filter": "datum.series == '2014'"}],
      "mark": {
        "type": "bar", "stroke": "black", "strokeWidth": 1.5,
        "fill": {"gradient": "linear", "x1": 0, "y1": 0, "x2": 1, "y2": 0, "stops": [
          {"offset": 0, "color": "#FFFFFF"}, {"offset": 0.22, "color": "#FFFFFF"},
          {"offset": 0.22, "color": "#A9D5BB"}, {"offset": 0.3, "color": "#A9D5BB"},
          {"offset": 0.3, "color": "#FFFFFF"}, {"offset": 0.7, "color": "#FFFFFF"},
          {"offset": 0.7, "color": "#6FB08C"}, {"offset": 0.8, "color": "#6FB08C"},
          {"offset": 0.8, "color": "#FFFFFF"}, {"offset": 1, "color": "#FFFFFF"}
        ]}
      },
      "encoding": {"xOffset": {"field": "series", "type": "nominal"}}
    },
    {
      "transform": [{"filter": "datum.series == '2016'"}],
      "mark": {
        "type": "bar", "stroke": "black", "strokeWidth": 1.5,
        "fill": {"gradient": "linear", "x1": 0, "y1": 0, "x2": 1, "y2": 0, "stops": [
          {"offset": 0, "color": "#FFFFFF"}, {"offset": 0.58, "color": "#FFFFFF"},
          {"offset": 0.58, "color": "#2DB56A"}, {"offset": 0.7, "color": "#2DB56A"},
          {"offset": 0.7, "color": "#FFFFFF"}, {"offset": 1, "color": "#FFFFFF"}
        ]}
      },
      "encoding": {"xOffset": {"field": "series", "type": "nominal"}}
    },
    {
      "transform": [{"filter": "datum.series == '2016'"}],
      "mark": {"type": "bar", "stroke": "black", "strokeWidth": 1.5,
        "fill": {"expr": "{gradient: 'linear', x1: 0, y1: 1, x2: 0, y2: 1-2170/(scale('y',0)-scale('y',datum.kwh)), stops: W50}"}},
      "encoding": {"xOffset": {"field": "series", "type": "nominal"}}
    },
    {
      "transform": [{"filter": "datum.series == 'Mittelwert 2007 - 2016'"}],
      "mark": {"type": "line", "stroke": "#009900", "strokeWidth": 5, "strokeJoin": "round"},
      "encoding": {}
    }
  ]
}
